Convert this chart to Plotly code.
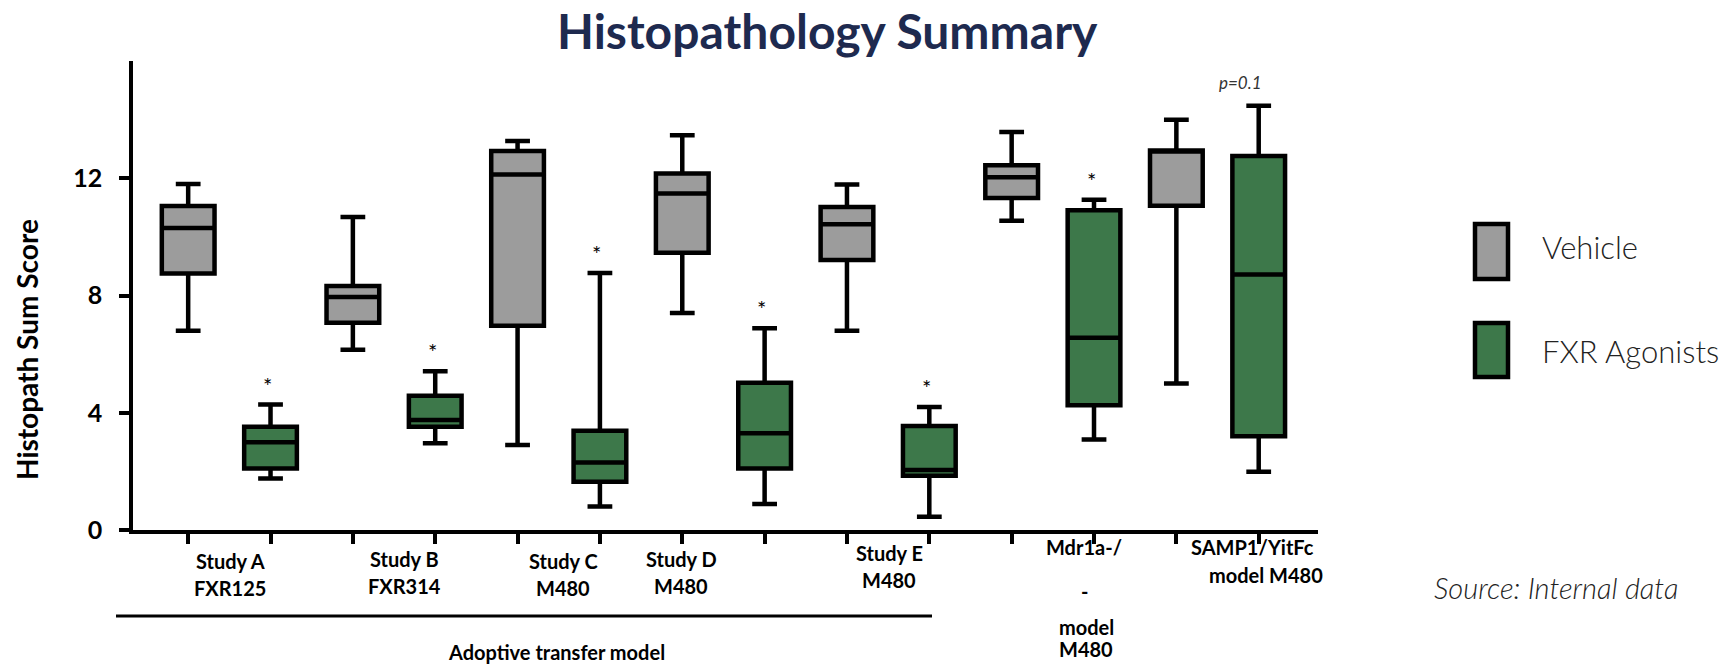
import plotly.graph_objects as go

# ---------------- data ----------------
groups = ["Study A", "Study B", "Study C", "Study D", "Study E", "Mdr1a", "SAMP1/YitFc"]

veh_min = [6.8, 6.15, 2.9, 7.4, 6.8, 10.55, 5.0]
veh_q1 = [8.75, 7.07, 6.97, 9.46, 9.21, 11.33, 11.06]
veh_med = [10.3, 7.95, 12.13, 11.48, 10.43, 12.03, 12.95]
veh_q3 = [11.05, 8.32, 12.93, 12.16, 11.02, 12.44, 12.95]
veh_max = [11.8, 10.68, 13.27, 13.47, 11.79, 13.58, 14.0]

fxr_min = [1.76, 2.96, 0.8, 0.89, 0.45, 3.09, 1.99]
fxr_q1 = [2.1, 3.52, 1.65, 2.1, 1.85, 4.26, 3.2]
fxr_med = [2.99, 3.75, 2.3, 3.3, 2.05, 6.56, 8.72]
fxr_q3 = [3.52, 4.58, 3.39, 5.02, 3.55, 10.91, 12.76]
fxr_max = [4.28, 5.42, 8.77, 6.88, 4.2, 11.27, 14.47]

fxr_marks = ["*", "*", "*", "*", "*", "*", "p=0.1"]

y_ticks = [0, 4, 8, 12]

label_lines = [
    ["Study A", "FXR125"],
    ["Study B", "FXR314"],
    ["Study C", "M480"],
    ["Study D", "M480"],
    ["Study E", "M480"],
    ["Mdr1a-/", "-", "model", "M480"],
    ["SAMP1/YitFc", "model M480"],
]
group_title = "Adoptive transfer model"
legend_names = ["Vehicle", "FXR Agonists"]
title = "Histopathology Summary"
y_title = "Histopath Sum Score"
source = "Source: Internal data"

# ---------------- layout / style ----------------
W, H = 1732, 665
ML, MR, MT, MB = 133, 414, 61, 135
PW, PH = W - ML - MR, H - MT - MB

def px_x(px):
    return (px - ML) / PW

def px_y(py):
    return (H - MB - py) / PH

GRAY = "#9c9c9c"
GREEN = "#3d784a"
FONT = "Lato"

n = len(groups)
veh_x = [2 * i for i in range(n)]
fxr_x = [2 * i + 1 for i in range(n)]

fig = go.Figure()
common = dict(
    line=dict(color="black", width=4.5),
    width=0.64,
    whiskerwidth=0.47,
    boxpoints=False,
    showlegend=False,
    hoverinfo="skip",
)
fig.add_trace(go.Box(x=veh_x, lowerfence=veh_min, q1=veh_q1, median=veh_med,
                     q3=veh_q3, upperfence=veh_max, fillcolor=GRAY,
                     name=legend_names[0], **common))
fig.add_trace(go.Box(x=fxr_x, lowerfence=fxr_min, q1=fxr_q1, median=fxr_med,
                     q3=fxr_q3, upperfence=fxr_max, fillcolor=GREEN,
                     name=legend_names[1], **common))

annotations = []
# significance marks
for xi, top, mark in zip(fxr_x, fxr_max, fxr_marks):
    if mark == "*":
        annotations.append(dict(x=xi, y=top, xref="x", yref="y", text="*",
                                showarrow=False, yanchor="bottom", yshift=4, xshift=-3,
                                font=dict(family=FONT, size=22, color="black")))
    else:
        annotations.append(dict(x=xi, y=top, xref="x", yref="y", text="<i>" + mark + "</i>",
                                showarrow=False, yanchor="bottom", yshift=11, xshift=-18,
                                font=dict(family=FONT, size=17, color="#333")))

# category labels (pixel positions of each line)
label_pos = [
    [(230, 561), (230, 588)],
    [(404, 559), (404, 586)],
    [(563, 561), (563, 588)],
    [(681, 559), (681, 586)],
    [(889, 553), (889, 580)],
    [(1084, 547), (1084, 591), (1086, 627), (1086, 649)],
    [(1252, 547), (1266, 575)],
]
for lines, poss in zip(label_lines, label_pos):
    for txt, (px, py) in zip(lines, poss):
        annotations.append(dict(x=px_x(px), y=px_y(py), xref="paper", yref="paper",
                                text="<b>" + txt + "</b>", showarrow=False,
                                xanchor="center", yanchor="middle",
                                font=dict(family=FONT, size=20, color="black")))

annotations.append(dict(x=px_x(556), y=px_y(652), xref="paper", yref="paper",
                        text="<b>" + group_title + "</b>", showarrow=False,
                        xanchor="center", yanchor="middle",
                        font=dict(family=FONT, size=20, color="black")))

# title
annotations.append(dict(x=px_x(827), y=px_y(30), xref="paper", yref="paper",
                        text="<b>" + title + "</b>", showarrow=False,
                        xanchor="center", yanchor="middle",
                        font=dict(family=FONT, size=48, color="#1e2a4f")))
# y title
annotations.append(dict(x=px_x(27), y=px_y(350), xref="paper", yref="paper",
                        text="<b>" + y_title + "</b>", showarrow=False, textangle=-90,
                        xanchor="center", yanchor="middle",
                        font=dict(family=FONT, size=28, color="black")))

# legend (drawn by hand)
shapes = []
leg_boxes = [(222, 281, GRAY), (321, 379, GREEN)]
leg_text_y = [247, 351]
for (top, bot, col), name, ty in zip(leg_boxes, legend_names, leg_text_y):
    shapes.append(dict(type="rect", xref="paper", yref="paper",
                       x0=px_x(1475), x1=px_x(1508), y0=px_y(bot - 2), y1=px_y(top + 2),
                       fillcolor=col, line=dict(color="black", width=4.5)))
    annotations.append(dict(x=px_x(1540), y=px_y(ty), xref="paper", yref="paper",
                            text=name, showarrow=False, xanchor="left", yanchor="middle",
                            font=dict(family=FONT, size=31, color="#222", weight=300)))

annotations.append(dict(x=px_x(1432), y=px_y(587), xref="paper", yref="paper",
                        text="<i>" + source + "</i>", showarrow=False,
                        xanchor="left", yanchor="middle",
                        font=dict(family=FONT, size=29, color="#222", weight=300)))

# group underline
shapes.append(dict(type="line", xref="paper", yref="paper",
                   x0=px_x(116), x1=px_x(932), y0=px_y(616), y1=px_y(616),
                   line=dict(color="black", width=3)))

fig.update_layout(
    width=W, height=H,
    margin=dict(l=ML, r=MR, t=MT, b=MB, pad=0),
    paper_bgcolor="white", plot_bgcolor="white",
    font=dict(family=FONT, color="black"),
    annotations=annotations,
    shapes=shapes,
    boxmode="overlay",
    xaxis=dict(
        range=[-0.67, 13.72], tickmode="array", tickvals=veh_x + fxr_x,
        showticklabels=False, ticks="outside", ticklen=10, tickwidth=3.5,
        tickcolor="black", showline=True, linecolor="black", linewidth=3.5,
        showgrid=False, zeroline=False, fixedrange=True,
    ),
    yaxis=dict(
        range=[0, 16], tickmode="array", tickvals=y_ticks,
        ticktext=["<b>%d</b>" % t for t in y_ticks],
        ticks="outside", ticklen=10, tickwidth=3.5, tickcolor="black",
        showline=True, linecolor="black", linewidth=3.5,
        showgrid=False, zeroline=False, ticklabelstandoff=12,
        tickfont=dict(family=FONT, size=25, color="black"),
        fixedrange=True,
    ),
)

fig.write_html("out.html", config={"displayModeBar": False},
               post_script="document.body.style.margin='0';")
